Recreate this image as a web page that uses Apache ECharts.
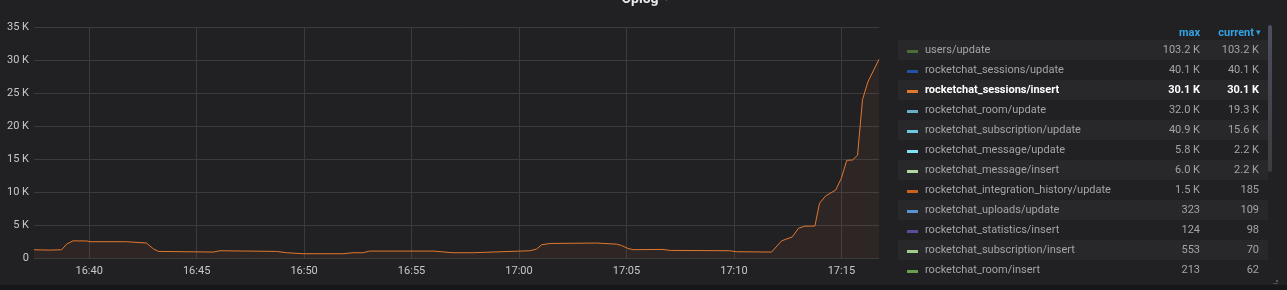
<!DOCTYPE html>
<html><head><meta charset="utf-8">
<script src="https://cdn.jsdelivr.net/npm/echarts@6/dist/echarts.min.js"></script>
<style>html,body{margin:0;padding:0;background:#161719;}#c{width:1287px;height:290px;}</style>
</head><body><div id="c"></div>
<script>
// ---- data ----
const times = ['16:37:26','16:38:10','16:38:43','16:38:57','16:39:15','16:39:53','16:40:02','16:41:44','16:42:40','16:42:59',
  '16:43:13','16:45:46','16:46:05','16:48:43','16:49:11','16:49:57','16:51:49','16:52:17','16:52:45','16:53:03',
  '16:56:00','16:56:56','16:57:52','17:00:30','17:00:49','17:01:03','17:01:26','17:03:36','17:04:32','17:04:46',
  '17:05:04','17:05:18','17:06:42','17:07:01','17:09:48','17:10:07','17:11:45','17:12:13','17:12:43','17:13:00',
  '17:13:17','17:13:46','17:13:59','17:14:16','17:14:44','17:15:00','17:15:15','17:15:31','17:15:45','17:15:59',
  '17:16:14','17:16:45'];
const sessionsInsert = [1250,1200,1250,2100,2600,2580,2470,2470,2270,1400,
  1000,900,1100,1000,800,650,650,800,800,1050,
  1050,800,800,1100,1350,2000,2200,2270,2100,1900,
  1450,1260,1300,1150,1100,950,900,2600,3200,4500,
  4820,4840,8300,9400,10300,12100,14800,14850,15560,24000,
  26700,30100];
const xTickLabels = ['16:40','16:45','16:50','16:55','17:00','17:05','17:10','17:15'];
const yMin = 0, yMax = 35000, yStep = 5000;
const titleText = 'Oplog';
const legendNames = ['users/update','rocketchat_sessions/update','rocketchat_sessions/insert','rocketchat_room/update',
  'rocketchat_subscription/update','rocketchat_message/update','rocketchat_message/insert','rocketchat_integration_history/update',
  'rocketchat_uploads/update','rocketchat_statistics/insert','rocketchat_subscription/insert','rocketchat_room/insert'];
const legendColors = ['#4b6e36','#2152a3','#e0782f','#68aec8','#6ec8e0','#7edff5','#b2d8a2','#c8621e','#5a94d0','#5f4a9c','#a0cc8c','#6a9e4c'];
const legendMax = ['103.2 K','40.1 K','30.1 K','32.0 K','40.9 K','5.8 K','6.0 K','1.5 K','323','124','553','213'];
const legendCurrent = ['103.2 K','40.1 K','30.1 K','19.3 K','15.6 K','2.2 K','2.2 K','185','109','98','70','62'];
const legendHeaders = ['max','current'];
const activeIndex = 2;

// ---- helpers ----
const toSec = s => { const p = s.split(':').map(Number); return p[0]*3600 + p[1]*60 + (p[2]||0); };
const fmtHM = v => { const h = Math.floor(v/3600), m = Math.round((v%3600)/60); return String(h).padStart(2,'0')+':'+String(m).padStart(2,'0'); };
const seriesData = times.map((t,i) => [toSec(t), sessionsInsert[i]]);
const xTicks = xTickLabels.map(toSec);

const FONT = 'Roboto, "Noto Sans", sans-serif';
const graphics = [];
graphics.push({type:'rect', z:-10, shape:{x:0,y:0,width:1287,height:285}, style:{fill:'#212124'}, silent:true});
graphics.push({type:'text', x:640, y:6, style:{text:titleText, fill:'#e6e7e8', font:'bold 14px '+FONT, textAlign:'center', textVerticalAlign:'bottom'}});
graphics.push({type:'text', x:666, y:3, style:{text:'▾', fill:'#8e8e90', font:'9px '+FONT, textAlign:'center', textVerticalAlign:'bottom'}});
// legend table header
graphics.push({type:'text', x:1200, y:33, style:{text:legendHeaders[0], fill:'#33a2e5', font:'bold 11px '+FONT, textAlign:'right', textVerticalAlign:'middle'}});
graphics.push({type:'text', x:1254, y:33, style:{text:legendHeaders[1], fill:'#33a2e5', font:'bold 11px '+FONT, textAlign:'right', textVerticalAlign:'middle'}});
graphics.push({type:'text', x:1258, y:33, style:{text:'▾', fill:'#33a2e5', font:'9px '+FONT, textAlign:'center', textVerticalAlign:'middle'}});
legendNames.forEach((name,i) => {
  const top = 40 + i*20, cy = top + 10.5;
  const active = i === activeIndex;
  const col = active ? '#ffffff' : '#a3a4a6';
  const w = active ? 'bold ' : '';
  if (i % 2 === 0) graphics.push({type:'rect', shape:{x:898,y:top,width:370,height:20}, style:{fill:'#28282b'}});
  graphics.push({type:'rect', shape:{x:907,y:top+10,width:11,height:3}, style:{fill:legendColors[i]}});
  graphics.push({type:'text', x:925, y:cy, style:{text:name, fill:col, font:w+'11px '+FONT, textVerticalAlign:'middle'}});
  graphics.push({type:'text', x:1200, y:cy, style:{text:legendMax[i], fill:col, font:w+'11px '+FONT, textAlign:'right', textVerticalAlign:'middle'}});
  graphics.push({type:'text', x:1259, y:cy, style:{text:legendCurrent[i], fill:col, font:w+'11px '+FONT, textAlign:'right', textVerticalAlign:'middle'}});
});
// scrollbar
graphics.push({type:'rect', shape:{x:1268,y:25,width:4,height:147,r:2}, style:{fill:new echarts.graphic.LinearGradient(0,0,0,1,[{offset:0,color:'#4c4f5e'},{offset:1,color:'#3c3c40'}])}});
graphics.push({type:'rect', shape:{x:1276,y:280,width:2,height:2}, style:{fill:'#5a5a5e'}});
graphics.push({type:'rect', shape:{x:1273,y:283,width:5,height:1}, style:{fill:'#4a4a4e'}});

const chart = echarts.init(document.getElementById('c'), null, {renderer:'canvas'});
chart.setOption({
  backgroundColor:'#161719',
  animation:false,
  grid:{left:34, right:408, top:27, bottom:32, containLabel:false},
  xAxis:{
    type:'value', min:seriesData[0][0], max:seriesData[seriesData.length-1][0],
    axisLine:{show:false}, axisTick:{show:false, customValues:xTicks},
    axisLabel:{customValues:xTicks, formatter:fmtHM, color:'#c7c8ca', fontFamily:FONT, fontSize:11, margin:8},
    splitLine:{show:true, lineStyle:{color:'#3b3b3e', width:1}}
  },
  yAxis:{
    type:'value', min:yMin, max:yMax, interval:yStep,
    axisLine:{show:false}, axisTick:{show:false},
    axisLabel:{formatter:v => v===0 ? '0' : (v/1000)+' K', color:'#c7c8ca', fontFamily:FONT, fontSize:11, margin:5},
    splitLine:{show:true, lineStyle:{color:'#3b3b3e', width:1}}
  },
  series:[{
    name:legendNames[activeIndex], type:'line', data:seriesData, showSymbol:false, smooth:false,
    lineStyle:{color:legendColors[activeIndex], width:1}, itemStyle:{color:legendColors[activeIndex]},
    areaStyle:{color:'rgba(224,120,47,0.1)'}
  }],
  graphic:graphics
});
</script></body></html>
